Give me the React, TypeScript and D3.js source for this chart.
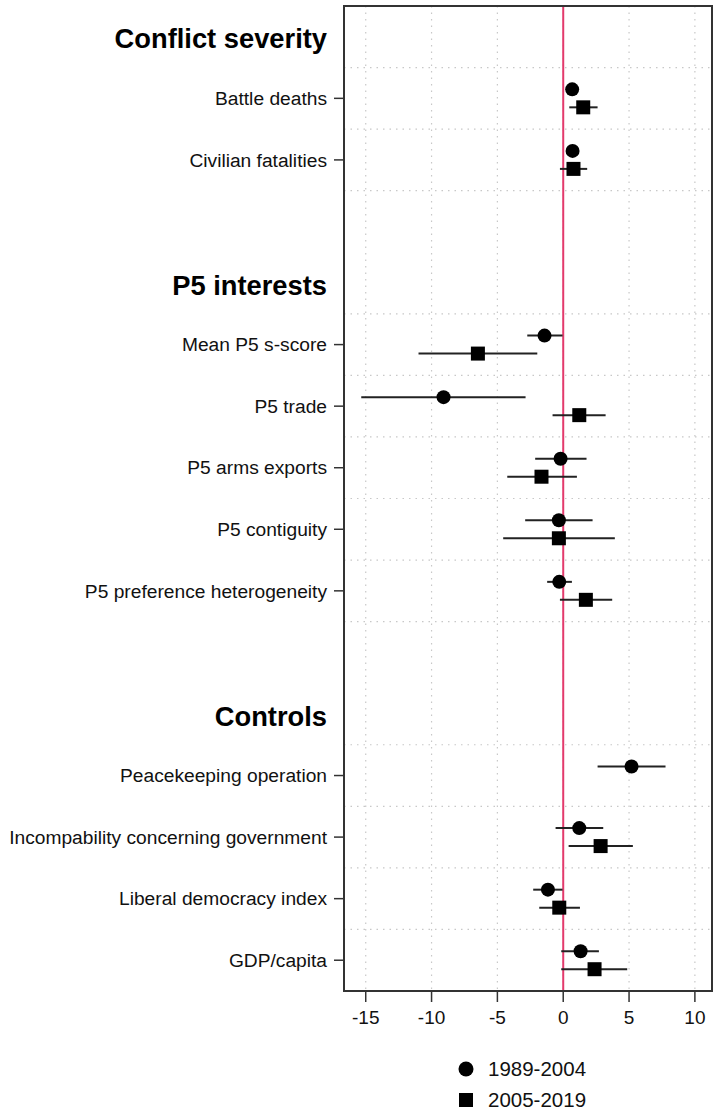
import React from "react";
import * as d3 from "d3";

const headers = ["Conflict severity", "P5 interests", "Controls"];
const variables = [
  "Battle deaths",
  "Civilian fatalities",
  "Mean P5 s-score",
  "P5 trade",
  "P5 arms exports",
  "P5 contiguity",
  "P5 preference heterogeneity",
  "Peacekeeping operation",
  "Incompability concerning government",
  "Liberal democracy index",
  "GDP/capita",
];
const variableGroup = [0, 0, 1, 1, 1, 1, 1, 2, 2, 2, 2];

const seriesNames = ["1989-2004", "2005-2019"];
const est1989 = [0.68, 0.71, -1.42, -9.09, -0.2, -0.33, -0.3, 5.19, 1.22, -1.16, 1.32];
const lo1989 = [0.35, 0.4, -2.73, -15.34, -2.13, -2.89, -1.22, 2.61, -0.58, -2.28, -0.15];
const hi1989 = [1.0, 1.02, -0.05, -2.86, 1.77, 2.23, 0.66, 7.77, 3.04, -0.05, 2.71];
const est2005: (number | null)[] = [1.52, 0.78, -6.48, 1.22, -1.65, -0.33, 1.72, null, 2.84, -0.3, 2.38];
const lo2005 = [0.46, -0.25, -10.99, -0.81, -4.25, -4.56, -0.25, 0, 0.41, -1.82, -0.15];
const hi2005 = [2.61, 1.82, -1.97, 3.22, 1.04, 3.92, 3.72, 0, 5.29, 1.27, 4.86];

const xTicks = [-15, -10, -5, 0, 5, 10];

const FONT = "'Liberation Sans', Arial, Helvetica, sans-serif";

export default function App() {
  const W = 716;
  const H = 1114;
  const left = 344;
  const right = 712;
  const top = 6;
  const bottom = 991;

  // row layout: header, its variables, blank row between groups
  const headerRows: number[] = [];
  const varRows: number[] = [];
  let k = 0;
  headers.forEach((_, g) => {
    if (g > 0) k += 1; // blank row
    headerRows.push(k);
    k += 1;
    variables.forEach((_, i) => {
      if (variableGroup[i] === g) {
        varRows[i] = k;
        k += 1;
      }
    });
  });

  const x = d3.scaleLinear().domain([-16.65, 11.3]).range([left, right]);
  const y = d3.scaleLinear().domain([-0.5, 15.5]).range([top, bottom]);

  const gridY = Array.from(
    new Set(varRows.flatMap((r) => [r - 0.5, r + 0.5]))
  ).filter((v) => v < 15.5);

  const off = 0.146;
  const lblX = 327;
  const gridColor = "#c8c8c8";
  const red = "#e33a6c";

  return (
    <svg
      width={W}
      height={H}
      style={{ position: "absolute", left: 0, top: 0, background: "#fff" }}
      fontFamily={FONT}
    >
      {/* vertical grid */}
      {xTicks.map((t) => (
        <line
          key={"vg" + t}
          x1={x(t)}
          x2={x(t)}
          y1={top}
          y2={bottom}
          stroke={gridColor}
          strokeWidth={1.2}
          strokeDasharray="1.5 5"
        />
      ))}
      {/* horizontal grid */}
      {gridY.map((g) => (
        <line
          key={"hg" + g}
          x1={left}
          x2={right}
          y1={y(g)}
          y2={y(g)}
          stroke={gridColor}
          strokeWidth={1.2}
          strokeDasharray="1.5 5"
        />
      ))}
      {/* zero line */}
      <line x1={x(0)} x2={x(0)} y1={top} y2={bottom} stroke={red} strokeWidth={2} />

      {/* series 1989-2004: circles */}
      {variables.map((v, i) => {
        const cy = y(varRows[i] - off);
        return (
          <g key={"s1" + i}>
            <line x1={x(lo1989[i])} x2={x(hi1989[i])} y1={cy} y2={cy} stroke="#222" strokeWidth={2} />
            <circle cx={x(est1989[i])} cy={cy} r={7} fill="#000" />
          </g>
        );
      })}
      {/* series 2005-2019: squares */}
      {variables.map((v, i) => {
        const e = est2005[i];
        if (e === null) return null;
        const cy = y(varRows[i] + off);
        return (
          <g key={"s2" + i}>
            <line x1={x(lo2005[i])} x2={x(hi2005[i])} y1={cy} y2={cy} stroke="#222" strokeWidth={2} />
            <rect x={x(e) - 7} y={cy - 7} width={14} height={14} fill="#000" />
          </g>
        );
      })}

      {/* frame */}
      <rect x={left} y={top} width={right - left} height={bottom - top} fill="none" stroke="#333" strokeWidth={2} />

      {/* left ticks and labels */}
      {variables.map((v, i) => (
        <g key={"yl" + i}>
          <line x1={left - 10} x2={left} y1={y(varRows[i])} y2={y(varRows[i])} stroke="#333" strokeWidth={1.5} />
          <text x={lblX} y={y(varRows[i])} dy="0.35em" textAnchor="end" fontSize={19.2} fill="#111">
            {v}
          </text>
        </g>
      ))}
      {headers.map((h, g) => (
        <text
          key={"h" + g}
          x={lblX}
          y={y(headerRows[g]) + 2}
          dy="0.35em"
          textAnchor="end"
          fontSize={27.3}
          fontWeight="bold"
          fill="#000"
        >
          {h}
        </text>
      ))}

      {/* bottom axis */}
      {xTicks.map((t) => (
        <g key={"xt" + t}>
          <line x1={x(t)} x2={x(t)} y1={bottom} y2={bottom + 11} stroke="#333" strokeWidth={1.5} />
          <text x={x(t)} y={1017} dy="0.35em" textAnchor="middle" fontSize={19} fill="#111">
            {t}
          </text>
        </g>
      ))}

      {/* legend */}
      <circle cx={466} cy={1069} r={7.5} fill="#000" />
      <text x={488} y={1069} dy="0.35em" fontSize={20.5} fill="#111">
        {seriesNames[0]}
      </text>
      <rect x={466 - 7} y={1100 - 7} width={14} height={14} fill="#000" />
      <text x={488} y={1100} dy="0.35em" fontSize={20.5} fill="#111">
        {seriesNames[1]}
      </text>
    </svg>
  );
}
